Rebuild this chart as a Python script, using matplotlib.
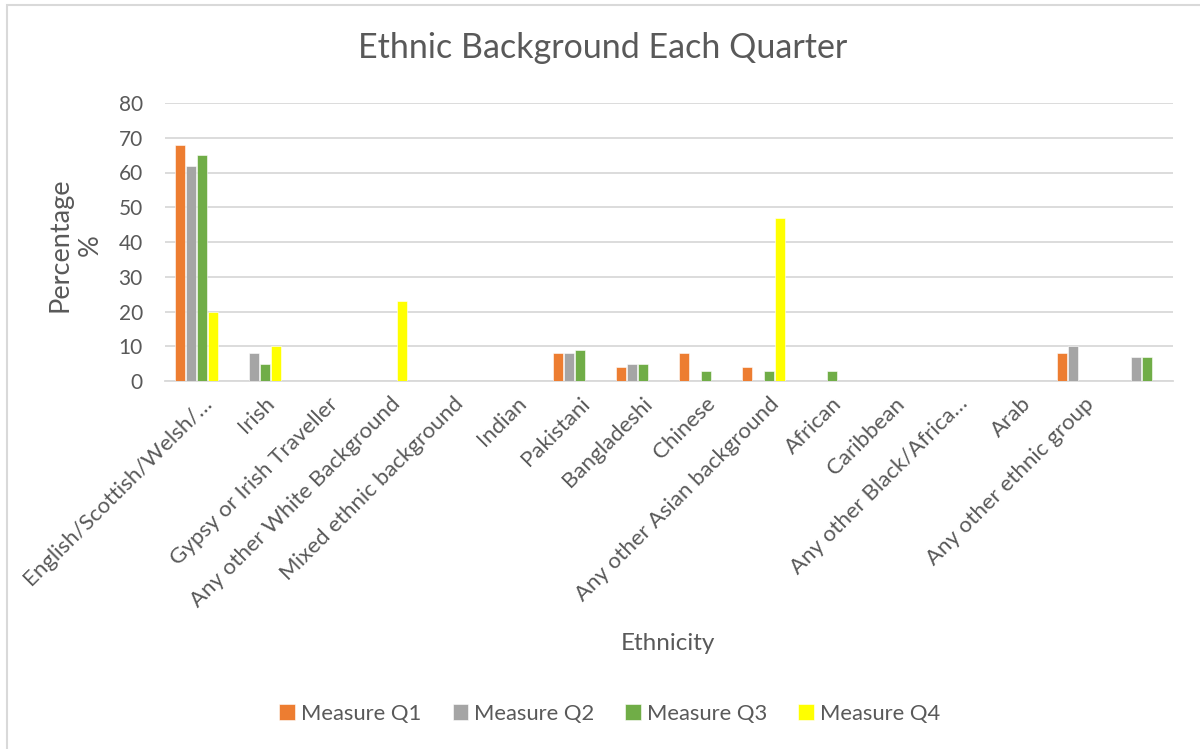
import matplotlib.pyplot as plt
import numpy as np
from matplotlib.patches import Rectangle

plt.rcParams["font.family"] = ["Lato", "DejaVu Sans"]

categories = [
    "English/Scottish/Welsh/…", "Irish", "Gypsy or Irish Traveller",
    "Any other White Background", "Mixed ethnic background", "Indian",
    "Pakistani", "Bangladeshi", "Chinese", "Any other Asian background",
    "African", "Caribbean", "Any other Black/Africa…", "Arab",
    "Any other ethnic group", "",
]
q1 = [68, 0, 0, 0, 0, 0, 8, 4, 8, 4, 0, 0, 0, 0, 8, 0]
q2 = [62, 8, 0, 0, 0, 0, 8, 5, 0, 0, 0, 0, 0, 0, 10, 7]
q3 = [65, 5, 0, 0, 0, 0, 9, 5, 3, 3, 3, 0, 0, 0, 0, 7]
q4 = [20, 10, 0, 23, 0, 0, 0, 0, 0, 47, 0, 0, 0, 0, 0, 0]

series = [("Measure Q1", q1, "#ED7D31"), ("Measure Q2", q2, "#A5A5A5"),
          ("Measure Q3", q3, "#70AD47"), ("Measure Q4", q4, "#FFFF00")]

text_col = "#595959"
grid_col = "#D9D9D9"

fig = plt.figure(figsize=(12, 7.49), dpi=100)
ax = fig.add_axes([165 / 1200, 1 - 381 / 749, 1008 / 1200, 278 / 749])

x = np.arange(len(categories))
slot = 0.175
for i, (name, vals, col) in enumerate(series):
    ax.bar(x + (i - 1.5) * slot, vals, width=0.15, color=col, label=name,
           edgecolor="white", linewidth=0.4, zorder=3)

ax.set_xlim(-0.5, len(categories) - 0.5)
ax.set_ylim(0, 80)
ax.set_yticks(range(0, 81, 10))
ax.yaxis.grid(True, color=grid_col, linewidth=1.3, zorder=0)
ax.set_axisbelow(True)
for side in ["top", "right", "left"]:
    ax.spines[side].set_visible(False)
ax.spines["bottom"].set_color(grid_col)
ax.spines["bottom"].set_linewidth(1.3)
ax.tick_params(axis="both", length=0, colors=text_col)
ax.tick_params(axis="y", pad=16, labelsize=15)
ax.tick_params(axis="x", pad=9, labelsize=16)

ax.set_xticks(x + 0.08)
ax.set_xticklabels(categories, rotation=45, ha="right", va="top",
                   rotation_mode="anchor")

fig.text(0.5025, 1 - 48 / 749, "Ethnic Background Each Quarter",
         ha="center", va="center", fontsize=24.5, color=text_col)
fig.text(75 / 1200, 1 - 245 / 749, "Percentage\n%", rotation=90,
         ha="center", va="center", fontsize=19.5, color=text_col,
         multialignment="center", linespacing=1.25)
fig.text(668 / 1200, 1 - 643 / 749, "Ethnicity", ha="center", va="center",
         fontsize=17.5, color=text_col)

fig.legend(loc="center", bbox_to_anchor=(610 / 1200, 1 - 714 / 749), ncol=4,
           frameon=False, fontsize=15.8, handlelength=0.7, handleheight=0.75,
           handletextpad=0.3, columnspacing=1.4, labelcolor=text_col)

fig.patches.append(Rectangle((6.5 / 1200, -0.1), 2, 1.1 - 4.5 / 749,
                             transform=fig.transFigure, fill=False,
                             edgecolor=grid_col, linewidth=1.5))

fig.savefig("out.png", dpi=100)
